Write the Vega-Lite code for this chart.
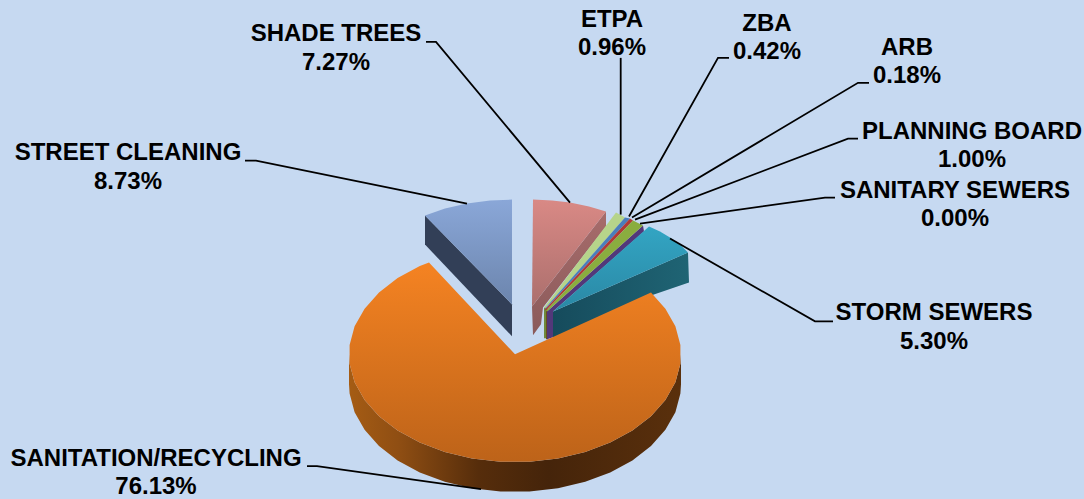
{"$schema":"https://vega.github.io/schema/vega-lite/v6.json","width":1084,"height":499,"autosize":{"type":"fit","contains":"padding"},"padding":0,"background":"#c6d9f1","config":{"view":{"stroke":null}},
"datasets":{"faces":[
{"p":"blueWall","i":1,"x":425,"y":216},{"p":"blueWall","i":2,"x":512,"y":305},{"p":"blueWall","i":3,"x":512,"y":337},{"p":"blueWall","i":4,"x":425,"y":245},
{"p":"blueTop","i":1,"x":425,"y":216},{"p":"blueTop","i":2,"x":445,"y":209},{"p":"blueTop","i":3,"x":467,"y":204},{"p":"blueTop","i":4,"x":490,"y":201},{"p":"blueTop","i":5,"x":512,"y":200},{"p":"blueTop","i":6,"x":512,"y":305},
{"p":"pinkWall","i":1,"x":606,"y":212},{"p":"pinkWall","i":2,"x":606,"y":227},{"p":"pinkWall","i":3,"x":543,"y":308},{"p":"pinkWall","i":4,"x":541,"y":325},{"p":"pinkWall","i":5,"x":533,"y":336},{"p":"pinkWall","i":6,"x":532,"y":307},
{"p":"pinkTop","i":1,"x":533,"y":200},{"p":"pinkTop","i":2,"x":552,"y":201},{"p":"pinkTop","i":3,"x":570,"y":203},{"p":"pinkTop","i":4,"x":589,"y":207},{"p":"pinkTop","i":5,"x":606,"y":212},{"p":"pinkTop","i":6,"x":532,"y":307},
{"p":"stripA","i":1,"x":544,"y":308},{"p":"stripA","i":2,"x":546,"y":308},{"p":"stripA","i":3,"x":546,"y":339},{"p":"stripA","i":4,"x":544,"y":339},
{"p":"stripB","i":1,"x":546,"y":309},{"p":"stripB","i":2,"x":548,"y":309},{"p":"stripB","i":3,"x":548,"y":340},{"p":"stripB","i":4,"x":546,"y":340},
{"p":"purpleWall","i":1,"x":643,"y":226},{"p":"purpleWall","i":2,"x":644,"y":232},{"p":"purpleWall","i":3,"x":553,"y":312},{"p":"purpleWall","i":4,"x":553,"y":338},{"p":"purpleWall","i":5,"x":547,"y":340},{"p":"purpleWall","i":6,"x":547,"y":312},
{"p":"etpa","i":1,"x":544,"y":308},{"p":"etpa","i":2,"x":616,"y":213},{"p":"etpa","i":3,"x":625,"y":218},{"p":"etpa","i":4,"x":545,"y":309},
{"p":"zba","i":1,"x":545,"y":309},{"p":"zba","i":2,"x":625,"y":218},{"p":"zba","i":3,"x":630,"y":219},{"p":"zba","i":4,"x":545,"y":310},
{"p":"arb","i":1,"x":545,"y":310},{"p":"arb","i":2,"x":630,"y":219},{"p":"arb","i":3,"x":633,"y":221},{"p":"arb","i":4,"x":546,"y":311},
{"p":"plan","i":1,"x":546,"y":311},{"p":"plan","i":2,"x":633,"y":221},{"p":"plan","i":3,"x":643,"y":226},{"p":"plan","i":4,"x":547,"y":312},
{"p":"tealWall","i":1,"x":553,"y":312},{"p":"tealWall","i":2,"x":688,"y":253},{"p":"tealWall","i":3,"x":689,"y":283},{"p":"tealWall","i":4,"x":651,"y":296},{"p":"tealWall","i":5,"x":553,"y":340},
{"p":"tealTop","i":1,"x":553,"y":312},{"p":"tealTop","i":2,"x":649,"y":227},{"p":"tealTop","i":3,"x":660,"y":232},{"p":"tealTop","i":4,"x":670,"y":238},{"p":"tealTop","i":5,"x":680,"y":245},{"p":"tealTop","i":6,"x":688,"y":253},
{"p":"orangeWall","i":1,"x":681,"y":355},{"p":"orangeWall","i":2,"x":680.4,"y":364.4},{"p":"orangeWall","i":3,"x":675.4,"y":383},{"p":"orangeWall","i":4,"x":665.4,"y":400.7},{"p":"orangeWall","i":5,"x":651,"y":417},{"p":"orangeWall","i":6,"x":632.4,"y":431.4},{"p":"orangeWall","i":7,"x":610.2,"y":443.5},{"p":"orangeWall","i":8,"x":585.2,"y":452.8},{"p":"orangeWall","i":9,"x":558,"y":459.3},{"p":"orangeWall","i":10,"x":529.5,"y":462.6},{"p":"orangeWall","i":11,"x":500.5,"y":462.6},{"p":"orangeWall","i":12,"x":472,"y":459.3},{"p":"orangeWall","i":13,"x":444.8,"y":452.8},{"p":"orangeWall","i":14,"x":419.8,"y":443.5},{"p":"orangeWall","i":15,"x":397.6,"y":431.4},{"p":"orangeWall","i":16,"x":379,"y":417},{"p":"orangeWall","i":17,"x":364.6,"y":400.7},{"p":"orangeWall","i":18,"x":354.6,"y":383},{"p":"orangeWall","i":19,"x":349.6,"y":364.4},{"p":"orangeWall","i":20,"x":349,"y":355},
{"p":"orangeWall","i":21,"x":349,"y":385},{"p":"orangeWall","i":22,"x":349.6,"y":394.4},{"p":"orangeWall","i":23,"x":354.6,"y":413},{"p":"orangeWall","i":24,"x":364.6,"y":430.7},{"p":"orangeWall","i":25,"x":379,"y":447},{"p":"orangeWall","i":26,"x":397.6,"y":461.4},{"p":"orangeWall","i":27,"x":419.8,"y":473.5},{"p":"orangeWall","i":28,"x":444.8,"y":482.8},{"p":"orangeWall","i":29,"x":472,"y":489.3},{"p":"orangeWall","i":30,"x":500.5,"y":492.6},{"p":"orangeWall","i":31,"x":529.5,"y":492.6},{"p":"orangeWall","i":32,"x":558,"y":489.3},{"p":"orangeWall","i":33,"x":585.2,"y":482.8},{"p":"orangeWall","i":34,"x":610.2,"y":473.5},{"p":"orangeWall","i":35,"x":632.4,"y":461.4},{"p":"orangeWall","i":36,"x":651,"y":447},{"p":"orangeWall","i":37,"x":665.4,"y":430.7},{"p":"orangeWall","i":38,"x":675.4,"y":413},{"p":"orangeWall","i":39,"x":680.4,"y":394.4},{"p":"orangeWall","i":40,"x":681,"y":385},
{"p":"orangeTop","i":1,"x":651,"y":293},{"p":"orangeTop","i":2,"x":665.4,"y":309.3},{"p":"orangeTop","i":3,"x":675.4,"y":327},{"p":"orangeTop","i":4,"x":680.4,"y":345.6},{"p":"orangeTop","i":5,"x":680.4,"y":364.4},{"p":"orangeTop","i":6,"x":675.4,"y":383},{"p":"orangeTop","i":7,"x":665.4,"y":400.7},{"p":"orangeTop","i":8,"x":651,"y":417},{"p":"orangeTop","i":9,"x":632.4,"y":431.4},{"p":"orangeTop","i":10,"x":610.2,"y":443.5},{"p":"orangeTop","i":11,"x":585.2,"y":452.8},{"p":"orangeTop","i":12,"x":558,"y":459.3},{"p":"orangeTop","i":13,"x":529.5,"y":462.6},{"p":"orangeTop","i":14,"x":500.5,"y":462.6},{"p":"orangeTop","i":15,"x":472,"y":459.3},{"p":"orangeTop","i":16,"x":444.8,"y":452.8},{"p":"orangeTop","i":17,"x":419.8,"y":443.5},{"p":"orangeTop","i":18,"x":397.6,"y":431.4},{"p":"orangeTop","i":19,"x":379,"y":417},{"p":"orangeTop","i":20,"x":364.6,"y":400.7},{"p":"orangeTop","i":21,"x":354.6,"y":383},{"p":"orangeTop","i":22,"x":349.6,"y":364.4},{"p":"orangeTop","i":23,"x":349.6,"y":345.6},{"p":"orangeTop","i":24,"x":354.6,"y":327},{"p":"orangeTop","i":25,"x":364.6,"y":309.3},{"p":"orangeTop","i":26,"x":379,"y":293},{"p":"orangeTop","i":27,"x":397.6,"y":278.6},{"p":"orangeTop","i":28,"x":419.8,"y":266.5},{"p":"orangeTop","i":29,"x":429,"y":263},{"p":"orangeTop","i":30,"x":515,"y":355}
],
"leaders":[
{"name":"STREET CLEANING","i":1,"x":245,"y":161},{"name":"STREET CLEANING","i":2,"x":256,"y":161},{"name":"STREET CLEANING","i":3,"x":467,"y":204},
{"name":"SHADE TREES","i":1,"x":426,"y":42},{"name":"SHADE TREES","i":2,"x":436,"y":42},{"name":"SHADE TREES","i":3,"x":570,"y":203},
{"name":"ETPA","i":1,"x":620.7,"y":58},{"name":"ETPA","i":2,"x":620.7,"y":215},
{"name":"ZBA","i":1,"x":729,"y":58},{"name":"ZBA","i":2,"x":718,"y":58},{"name":"ZBA","i":3,"x":629,"y":217},
{"name":"ARB","i":1,"x":869,"y":83},{"name":"ARB","i":2,"x":858,"y":83},{"name":"ARB","i":3,"x":632,"y":218},
{"name":"PLANNING BOARD","i":1,"x":858,"y":139},{"name":"PLANNING BOARD","i":2,"x":848,"y":139},{"name":"PLANNING BOARD","i":3,"x":635,"y":220},
{"name":"SANITARY SEWERS","i":1,"x":835,"y":198},{"name":"SANITARY SEWERS","i":2,"x":825,"y":198},{"name":"SANITARY SEWERS","i":3,"x":640,"y":224},
{"name":"STORM SEWERS","i":1,"x":833,"y":322},{"name":"STORM SEWERS","i":2,"x":815,"y":322},{"name":"STORM SEWERS","i":3,"x":670,"y":239},
{"name":"SANITATION/RECYCLING","i":1,"x":307,"y":467},{"name":"SANITATION/RECYCLING","i":2,"x":317,"y":467},{"name":"SANITATION/RECYCLING","i":3,"x":481,"y":490}
],
"labels":[
{"t":"SHADE TREES","x":336,"y":33},{"t":"7.27%","x":336,"y":62},
{"t":"ETPA","x":612,"y":19},{"t":"0.96%","x":612,"y":47},
{"t":"ZBA","x":767,"y":23},{"t":"0.42%","x":767,"y":51},
{"t":"ARB","x":907,"y":47},{"t":"0.18%","x":907,"y":75},
{"t":"PLANNING BOARD","x":972,"y":131},{"t":"1.00%","x":972,"y":159},
{"t":"SANITARY SEWERS","x":955,"y":190},{"t":"0.00%","x":955,"y":218},
{"t":"STORM SEWERS","x":934,"y":312},{"t":"5.30%","x":934,"y":341},
{"t":"STREET CLEANING","x":128,"y":152},{"t":"8.73%","x":128,"y":181},
{"t":"SANITATION/RECYCLING","x":156,"y":458},{"t":"76.13%","x":156,"y":486}
]},
"encoding":{"x":{"field":"x","type":"quantitative","scale":{"domain":[0,1084]},"axis":null},"y":{"field":"y","type":"quantitative","scale":{"domain":[499,0]},"axis":null}},
"layer":[
{"data":{"name":"faces"},"transform":[{"filter":"datum.p=='blueWall'"}],"mark":{"type":"line","fill":"#323f57","strokeWidth":0},"encoding":{"order":{"field":"i"}}},
{"data":{"name":"faces"},"transform":[{"filter":"datum.p=='blueTop'"}],"mark":{"type":"line","strokeWidth":0,"fill":{"gradient":"linear","x1":0,"y1":0,"x2":0,"y2":1,"stops":[{"offset":0,"color":"#8aa7d8"},{"offset":1,"color":"#6c85ad"}]}},"encoding":{"order":{"field":"i"}}},
{"data":{"name":"faces"},"transform":[{"filter":"datum.p=='pinkWall'"}],"mark":{"type":"line","strokeWidth":0,"fill":{"gradient":"linear","x1":0,"y1":0,"x2":0,"y2":1,"stops":[{"offset":0,"color":"#a76c6b"},{"offset":1,"color":"#8a5a5a"}]}},"encoding":{"order":{"field":"i"}}},
{"data":{"name":"faces"},"transform":[{"filter":"datum.p=='pinkTop'"}],"mark":{"type":"line","strokeWidth":0,"fill":{"gradient":"linear","x1":0,"y1":0,"x2":0,"y2":1,"stops":[{"offset":0,"color":"#d98985"},{"offset":1,"color":"#ab6f6d"}]}},"encoding":{"order":{"field":"i"}}},
{"data":{"name":"faces"},"transform":[{"filter":"datum.p=='stripA'"}],"mark":{"type":"line","fill":"#6f8a3a","strokeWidth":0},"encoding":{"order":{"field":"i"}}},
{"data":{"name":"faces"},"transform":[{"filter":"datum.p=='stripB'"}],"mark":{"type":"line","fill":"#6a4f22","strokeWidth":0},"encoding":{"order":{"field":"i"}}},
{"data":{"name":"faces"},"transform":[{"filter":"datum.p=='purpleWall'"}],"mark":{"type":"line","fill":"#52387a","strokeWidth":0},"encoding":{"order":{"field":"i"}}},
{"data":{"name":"faces"},"transform":[{"filter":"datum.p=='etpa'"}],"mark":{"type":"line","fill":"#b6d48a","strokeWidth":0},"encoding":{"order":{"field":"i"}}},
{"data":{"name":"faces"},"transform":[{"filter":"datum.p=='zba'"}],"mark":{"type":"line","fill":"#4a7ebb","strokeWidth":0},"encoding":{"order":{"field":"i"}}},
{"data":{"name":"faces"},"transform":[{"filter":"datum.p=='arb'"}],"mark":{"type":"line","fill":"#b03a35","strokeWidth":0},"encoding":{"order":{"field":"i"}}},
{"data":{"name":"faces"},"transform":[{"filter":"datum.p=='plan'"}],"mark":{"type":"line","fill":"#8aad3f","strokeWidth":0},"encoding":{"order":{"field":"i"}}},
{"data":{"name":"faces"},"transform":[{"filter":"datum.p=='tealWall'"}],"mark":{"type":"line","strokeWidth":0,"fill":{"gradient":"linear","x1":0,"y1":0,"x2":1,"y2":0,"stops":[{"offset":0,"color":"#164b5c"},{"offset":1,"color":"#1f6474"}]}},"encoding":{"order":{"field":"i"}}},
{"data":{"name":"faces"},"transform":[{"filter":"datum.p=='tealTop'"}],"mark":{"type":"line","strokeWidth":0,"fill":{"gradient":"linear","x1":0,"y1":0,"x2":0,"y2":1,"stops":[{"offset":0,"color":"#33a5c3"},{"offset":1,"color":"#2a88a5"}]}},"encoding":{"order":{"field":"i"}}},
{"data":{"name":"faces"},"transform":[{"filter":"datum.p=='orangeWall'"}],"mark":{"type":"line","strokeWidth":0,"fill":{"gradient":"linear","x1":0,"y1":0,"x2":1,"y2":0,"stops":[{"offset":0,"color":"#a55c14"},{"offset":0.15,"color":"#8f4e13"},{"offset":0.39,"color":"#562d0b"},{"offset":0.6,"color":"#45240a"},{"offset":1,"color":"#5a300c"}]}},"encoding":{"order":{"field":"i"}}},
{"data":{"name":"faces"},"transform":[{"filter":"datum.p=='orangeTop'"}],"mark":{"type":"line","strokeWidth":0,"fill":{"gradient":"linear","x1":0,"y1":0,"x2":0,"y2":1,"stops":[{"offset":0,"color":"#f58322"},{"offset":1,"color":"#bd6319"}]}},"encoding":{"order":{"field":"i"}}},
{"data":{"name":"leaders"},"mark":{"type":"line","color":"#000000","strokeWidth":1.8},"encoding":{"detail":{"field":"name"},"order":{"field":"i"}}},
{"data":{"name":"labels"},"mark":{"type":"text","font":"Liberation Sans","fontWeight":"bold","fontSize":24,"align":"center","baseline":"middle","dy":1.5,"color":"#000000"},"encoding":{"text":{"field":"t"}}}
]}
